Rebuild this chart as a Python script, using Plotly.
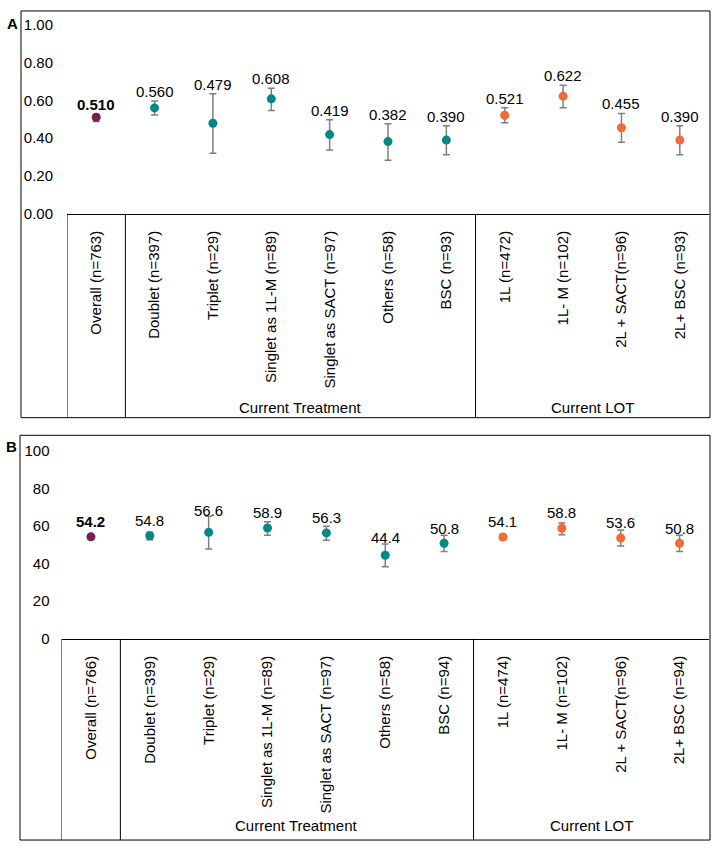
import plotly.graph_objects as go

# ---------------- data ----------------
groups = ["overall", "treat", "treat", "treat", "treat", "treat", "treat", "lot", "lot", "lot", "lot"]

cats_a = ["Overall (n=763)", "Doublet (n=397)", "Triplet (n=29)", "Singlet as 1L-M (n=89)",
          "Singlet as SACT (n=97)", "Others (n=58)", "BSC (n=93)", "1L (n=472)", "1L- M (n=102)",
          "2L + SACT(n=96)", "2L+ BSC (n=93)"]
vals_a = [0.510, 0.560, 0.479, 0.608, 0.419, 0.382, 0.390, 0.521, 0.622, 0.455, 0.390]
low_a = [0.488, 0.522, 0.320, 0.546, 0.338, 0.283, 0.312, 0.481, 0.561, 0.378, 0.312]
up_a = [0.527, 0.597, 0.635, 0.664, 0.497, 0.476, 0.466, 0.561, 0.680, 0.531, 0.466]

cats_b = ["Overall (n=766)", "Doublet (n=399)", "Triplet (n=29)", "Singlet as 1L-M (n=89)",
          "Singlet as SACT (n=97)", "Others (n=58)", "BSC (n=94)", "1L (n=474)", "1L- M (n=102)",
          "2L + SACT(n=96)", "2L+ BSC (n=94)"]
vals_b = [54.2, 54.8, 56.6, 58.9, 56.3, 44.4, 50.8, 54.1, 58.8, 53.6, 50.8]
low_b = [53.1, 52.7, 47.8, 55.1, 52.4, 38.3, 46.4, 52.8, 55.3, 49.4, 46.4]
up_b = [55.2, 56.6, 65.1, 62.3, 59.9, 50.4, 55.1, 55.4, 61.6, 57.9, 55.1]

label_a = ["<b>0.510</b>", "0.560", "0.479", "0.608", "0.419", "0.382", "0.390", "0.521", "0.622", "0.455", "0.390"]
label_b = ["<b>54.2</b>", "54.8", "56.6", "58.9", "56.3", "44.4", "50.8", "54.1", "58.8", "53.6", "50.8"]

group_labels = ["Current Treatment", "Current LOT"]

# ---------------- style ----------------
W, H = 712, 850
FONT = "Arial, Liberation Sans, Helvetica, sans-serif"
col_map = {"overall": "#7B1C4E", "treat": "#008985", "lot": "#F26A35"}
colors = [col_map[g] for g in groups]
ERR = "#7F7F7F"


def py(px):
    return 1 - px / H


fig = go.Figure()


def add_panel(cats, vals, lows, ups, xa, ya):
    fig.add_trace(go.Scatter(
        x=cats, y=vals, mode="markers", xaxis=xa, yaxis=ya,
        marker=dict(color=colors, size=9, line=dict(width=0)),
        error_y=dict(type="data", symmetric=False,
                     array=[u - v for u, v in zip(ups, vals)],
                     arrayminus=[v - l for v, l in zip(vals, lows)],
                     color=ERR, thickness=1.5, width=3.5),
        showlegend=False, hoverinfo="skip"))


add_panel(cats_a, vals_a, low_a, up_a, "x", "y")
add_panel(cats_b, vals_b, low_b, up_b, "x2", "y2")

annotations = []
# data labels panel A: just above the upper CI
for i, (t, u) in enumerate(zip(label_a, up_a)):
    annotations.append(dict(x=i, y=u, xref="x", yref="y", text=t, showarrow=False,
                            yanchor="bottom", yshift=-1,
                            font=dict(family=FONT, size=15, color="#000")))
# data labels panel B
for i, (t, v, u) in enumerate(zip(label_b, vals_b, up_b)):
    yy = max(v + 8.1, u + 3.2)
    annotations.append(dict(x=i, y=yy, xref="x2", yref="y2", text=t, showarrow=False,
                            yanchor="middle",
                            font=dict(family=FONT, size=15, color="#000")))

# panel geometry (pixels)
A = dict(left=21, top=2, bottom=417, right=710, x0=67, y0=209, y1=16, grp=407)
B = dict(left=20, top=435, bottom=848, right=710, x0=61.5, y0=642.7, y1=450.7, grp=833)

shapes = []
for P, xr in ((A, "x"), (B, "x2")):
    shapes.append(dict(type="rect", xref="paper", yref="paper",
                       x0=P["left"] / W, x1=P["right"] / W, y0=py(P["bottom"]), y1=py(P["top"]),
                       line=dict(color="#000", width=1)))
    for xb in (-0.5, 0.5, 6.5):
        shapes.append(dict(type="line", xref=xr, yref="paper", x0=xb, x1=xb,
                           y0=py(P["y0"]), y1=py(P["bottom"]), line=dict(color="#000", width=1)))
    # group labels
    for gx, gt in zip((3.5, 8.5), group_labels):
        annotations.append(dict(x=gx, y=py(P["grp"]), xref=xr, yref="paper", text=gt,
                                showarrow=False, yanchor="middle",
                                font=dict(family=FONT, size=15, color="#000")))

annotations.append(dict(x=5 / W, y=py(15), xref="paper", yref="paper", text="<b>A</b>",
                        showarrow=False, xanchor="left", yanchor="middle",
                        font=dict(family=FONT, size=15, color="#000")))
annotations.append(dict(x=4 / W, y=py(446), xref="paper", yref="paper", text="<b>B</b>",
                        showarrow=False, xanchor="left", yanchor="middle",
                        font=dict(family=FONT, size=15, color="#000")))

xcommon = dict(type="category", range=[-0.5, 10.5], showgrid=False, zeroline=False,
               showline=True, linecolor="#000", linewidth=1, ticks="", tickangle=-90,
               ticklabelstandoff=10, tickfont=dict(family=FONT, size=15, color="#000"),
               fixedrange=True)
ycommon = dict(showgrid=False, zeroline=False, showline=False, ticks="",
               tickfont=dict(family=FONT, size=15, color="#000"), fixedrange=True)

fig.update_layout(
    width=W, height=H, margin=dict(l=0, r=0, t=0, b=0),
    paper_bgcolor="white", plot_bgcolor="white",
    font=dict(family=FONT, color="#000"),
    xaxis=dict(domain=[A["x0"] / W, (A["right"] - 1) / W], anchor="y", **xcommon),
    yaxis=dict(domain=[py(A["y0"]), py(A["y1"])], range=[0, 1], tickvals=[0, 0.2, 0.4, 0.6, 0.8, 1.0],
               tickformat=".2f", ticklabelstandoff=13, anchor="x", **ycommon),
    xaxis2=dict(domain=[B["x0"] / W, (B["right"] - 1) / W], anchor="y2", **xcommon),
    yaxis2=dict(domain=[py(B["y0"]), py(B["y1"])], range=[0, 100], tickvals=[0, 20, 40, 60, 80, 100],
                ticklabelstandoff=11, anchor="x2", **ycommon),
    shapes=shapes, annotations=annotations,
)

fig.write_html("out.html", config={"displayModeBar": False},
               post_script="document.body.style.margin='0';document.body.style.overflow='hidden';")
